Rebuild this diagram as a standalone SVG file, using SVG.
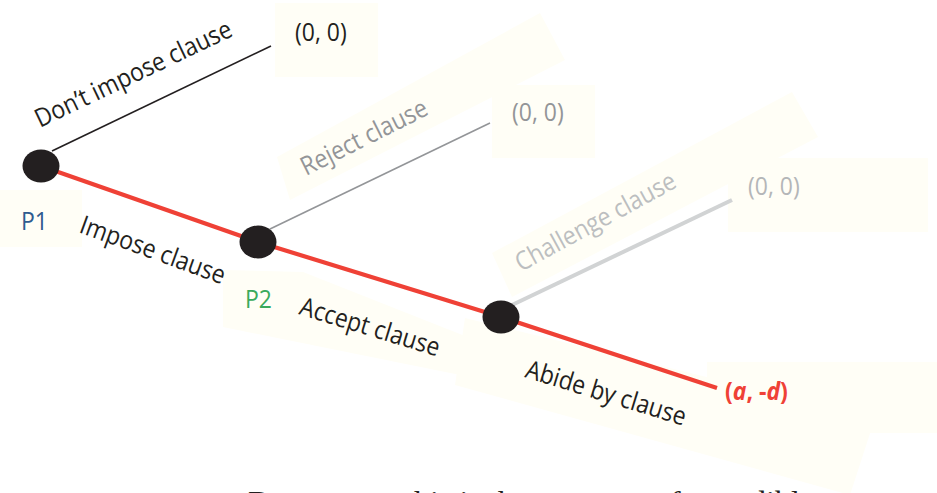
<svg xmlns="http://www.w3.org/2000/svg" width="937" height="493" viewBox="0 0 937 493">
  <style>
    .pad { fill: #fffef6; stroke: none; }
    .lbl { font-family: "Open Sans", "Noto Sans", sans-serif; font-size: 23px; }
    .dark { fill: #231f20; }
    .mid { fill: #939598; }
    .pale { fill: #b4b6b8; }
    .node { fill: #231f20; }
    .path-main { stroke: #ef4136; stroke-width: 4.2; fill: none; stroke-linecap: butt; }
    .caption { font-family: "Liberation Serif", "Times New Roman", serif; font-size: 32px; fill: #231f20; }
  </style>

  <!-- faint label backdrops -->
  <g id="backdrops">
    <rect class="pad" x="275" y="3" width="103" height="74"/>
    <polygon class="pad" points="277,157 540,13 565,60 290,200"/>
    <rect class="pad" x="492" y="85" width="103" height="73"/>
    <polygon class="pad" points="492,253 792,92 818,137 512,297"/>
    <rect class="pad" x="728" y="158" width="200" height="74"/>
    <rect class="pad" x="0" y="190" width="82" height="57"/>
    <polygon class="pad" points="223,270 303,272 470,338 470,377 223,327"/>
    <polygon class="pad" points="465,318 875,418 850,495 455,385"/>
    <rect class="pad" x="707" y="362" width="230" height="71"/>
  </g>

  <!-- branches -->
  <g id="connectors">
    <line id="c-dont-impose" x1="52" y1="151" x2="271" y2="46" stroke="#231f20" stroke-width="1.6"/>
    <line id="c-impose" class="path-main" x1="41" y1="166" x2="258" y2="242"/>
    <line id="c-reject" x1="270" y1="229" x2="490" y2="123" stroke="#939598" stroke-width="1.6"/>
    <line id="c-accept" class="path-main" x1="258" y1="242" x2="501" y2="317"/>
    <line id="c-challenge" x1="512" y1="305" x2="732" y2="200" stroke="#d1d3d4" stroke-width="4"/>
    <line id="c-abide" class="path-main" x1="501" y1="317" x2="717" y2="388"/>
  </g>

  <!-- branch labels -->
  <g id="branch-labels" class="lbl">
    <text class="dark" transform="translate(40,128) rotate(-25.5) scale(1,1.12)">Don’t impose clause</text>
    <text class="mid" transform="translate(306,176) rotate(-26.6) scale(1,1.12)">Reject clause</text>
    <text style="fill:#bcbec0" transform="translate(521,272) rotate(-28.5) scale(1,1.12)">Challenge clause</text>
    <text class="dark" transform="translate(78,232) rotate(20) scale(1,1.12)">Impose clause</text>
    <text class="dark" transform="translate(298,314) rotate(17) scale(1,1.12)">Accept clause</text>
    <text class="dark" transform="translate(524,377) rotate(17) scale(1,1.12)">Abide by clause</text>
  </g>

  <!-- decision nodes -->
  <g id="node-p1">
    <ellipse class="node" cx="41" cy="166" rx="18.5" ry="16.5"/>
    <text class="lbl" transform="translate(21,230) scale(1,1.12)" fill="#2e5b8f">P1</text>
  </g>
  <g id="node-p2">
    <ellipse class="node" cx="258" cy="242" rx="18.5" ry="16.5"/>
    <text class="lbl" transform="translate(245,308) scale(1,1.12)" fill="#3aaa5c">P2</text>
  </g>
  <g id="node-p2-second">
    <ellipse class="node" cx="501" cy="317" rx="18.5" ry="16.5"/>
  </g>

  <!-- payoffs -->
  <g id="payoff-dont-impose">
    <text class="lbl dark" transform="translate(295,41) scale(1,1.12)">(0, 0)</text>
  </g>
  <g id="payoff-reject">
    <text class="lbl mid" transform="translate(512,121) scale(1,1.12)">(0, 0)</text>
  </g>
  <g id="payoff-challenge">
    <text class="lbl pale" transform="translate(748,195) scale(1,1.12)">(0, 0)</text>
  </g>
  <g id="payoff-abide">
    <text class="lbl" transform="translate(725,400) scale(1,1.12)" fill="#ef4136" font-weight="bold">(<tspan font-style="italic">a</tspan>, -<tspan font-style="italic">d</tspan>)</text>
  </g>

  <!-- caption line, cut by the lower edge -->
  <text class="caption" x="248" y="513">Deterrence: this is the outcome of a credible</text>
</svg>
